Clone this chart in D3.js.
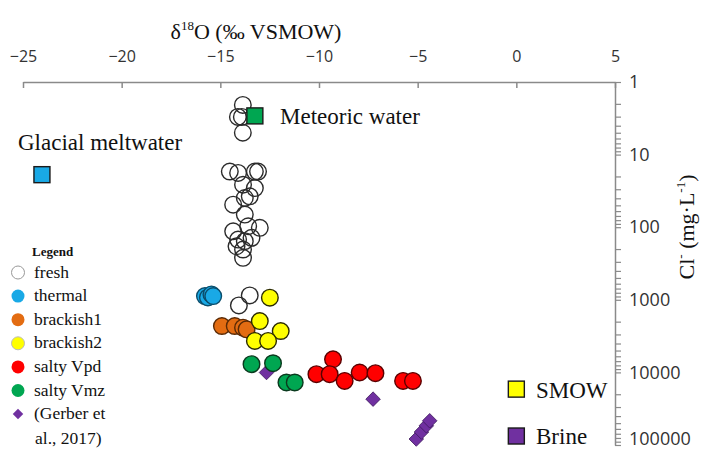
<!DOCTYPE html>
<html>
<head>
<meta charset="utf-8">
<script src="https://cdn.jsdelivr.net/npm/d3@7"></script>
<style>
  body { margin: 0; background: #fff; }
  svg { display: block; }
  .tick text { fill: #333; font-family: "Open Sans", Lato, sans-serif; }
  .serif { fill: #111; }
</style>
</head>
<body>
<svg id="chart" width="704" height="449" viewBox="0 0 704 449"></svg>
<script>
const SERIF = "'Liberation Serif', 'Times New Roman', serif"

// [d18O, Cl mg/L]
const fresh = [
  [-13.86, 2.07], [-14.11, 3.03], [-13.91, 3.03], [-13.86, 5.0],
  [-14.52, 17.1], [-14.10, 17.9], [-13.25, 17.1], [-13.09, 17.1],
  [-13.85, 26], [-13.25, 28.9], [-14.35, 49], [-13.76, 39.6], [-13.51, 37.6],
  [-13.76, 67], [-14.35, 114], [-13.0, 102], [-13.59, 97], [-14.10, 148],
  [-13.76, 156], [-13.42, 140], [-14.18, 183], [-13.85, 203], [-13.85, 264],
  [-13.51, 870], [-14.06, 1194]
]
const thermal = [[-15.78, 889], [-15.63, 927], [-15.45, 843], [-15.36, 889]]
const brackish1 = [[-14.92, 2297], [-14.27, 2297], [-13.85, 2417], [-13.67, 2551]]
const brackish2 = [[-12.49, 936], [-13.0, 1963], [-11.94, 2692], [-13.25, 3690], [-12.58, 3690]]
const saltyVpd = [
  [-9.29, 6590], [-10.13, 10590], [-9.46, 10590], [-8.70, 13090],
  [-7.94, 10030], [-7.14, 10250], [-5.74, 13090], [-5.24, 13090]
]
const saltyVmz = [[-13.42, 7715], [-12.33, 7476], [-11.65, 13770], [-11.23, 13770]]
const gerber = [
  [-13.59, 2830], [-12.66, 10030], [-7.26, 23350],
  [-5.07, 82700], [-4.81, 66300], [-4.56, 54300], [-4.39, 46400]
]
const endMembers = [
  {name: "Glacial meltwater", d18O: -24.04, cl: 18.9},
  {name: "Meteoric water", d18O: -13.25, cl: 2.93},
  {name: "SMOW", d18O: 0, cl: 17000},
  {name: "Brine", d18O: 0, cl: 75200}
]
const xTicks = [-25, -20, -15, -10, -5, 0, 5]
const yTicks = [1, 10, 100, 1000, 10000, 100000]

const svg = d3.select("#chart")
const x = d3.scaleLinear().domain([-25, 5]).range([23, 615])
const y = d3.scaleLog().domain([1, 100000]).range([82, 445])

// top axis, ticks pointing down into the plot
svg.append("g")
  .attr("transform", `translate(0,${y(1)})`)
  .call(d3.axisTop(x).tickValues(xTicks).tickSizeInner(-6).tickSizeOuter(0).tickPadding(20))
  .call(g => g.select(".domain").attr("stroke", "#8a8a8a").attr("stroke-width", 1.5))
  .call(g => g.selectAll(".tick line").attr("stroke", "#8a8a8a").attr("stroke-width", 1.5))
  .call(g => g.selectAll(".tick text").attr("font-size", 16))

// right log axis with minor ticks
let allY = []
for (let e = 0; e < 5; e++) for (let m = 1; m < 10; m++) allY.push(m * Math.pow(10, e))
allY.push(100000)
svg.append("g")
  .attr("transform", `translate(${x(5)},0)`)
  .call(d3.axisRight(y).tickValues(allY).tickSizeInner(6).tickSizeOuter(0).tickPadding(8)
    .tickFormat(d => yTicks.includes(d) ? d3.format("d")(d) : ""))
  .call(g => g.select(".domain").attr("stroke", "#8a8a8a").attr("stroke-width", 1.5))
  .call(g => g.selectAll(".tick line").attr("stroke", "#8a8a8a").attr("stroke-width", 1.2))
  .call(g => g.selectAll(".tick text").attr("font-size", 18))
  .call(g => g.selectAll(".tick text").filter(d => d === 100000).attr("dy", "-0.05em"))

// titles
const title = svg.append("text").attr("class", "serif").attr("font-family", SERIF)
  .attr("x", 256).attr("y", 39).attr("text-anchor", "middle").attr("font-size", 22)
title.append("tspan").text("δ")
title.append("tspan").attr("font-size", 13).attr("dy", -9).text("18")
title.append("tspan").attr("dy", 9).text("O (‰ VSMOW)")

const ylab = svg.append("text").attr("class", "serif").attr("font-family", SERIF)
  .attr("transform", "translate(694,227) rotate(-90)")
  .attr("text-anchor", "middle").attr("font-size", 22)
ylab.append("tspan").text("Cl")
ylab.append("tspan").attr("font-size", 13).attr("dy", -9).text("-")
ylab.append("tspan").attr("dy", 9).text(" (mg·L")
ylab.append("tspan").attr("font-size", 13).attr("dy", -9).text("-1")
ylab.append("tspan").attr("dy", 9).text(")")

// data
const plot = svg.append("g")
function circles(data, fill, stroke) {
  plot.append("g").selectAll("circle").data(data).join("circle")
    .attr("cx", d => x(d[0])).attr("cy", d => y(d[1])).attr("r", 8.3)
    .attr("fill", fill).attr("stroke", stroke).attr("stroke-width", 1.4)
}
circles(fresh, "none", "#2b2b2b")
plot.append("g").selectAll("path").data(gerber).join("path")
  .attr("d", d3.symbol(d3.symbolDiamond2, 135))
  .attr("transform", d => `translate(${x(d[0])},${y(d[1])})`)
  .attr("fill", "#7030a0").attr("stroke", "#3d1a5c").attr("stroke-width", 0.8)
circles(thermal, "#19a9e6", "#0b4d6b")
circles(brackish1, "#e36c12", "#5a2a05")
circles(brackish2, "#ffff00", "#2b2b00")
circles(saltyVmz, "#00a651", "#0a3a1e")
circles(saltyVpd, "#ff0000", "#5a0000")

// end members
const emFill = {"Glacial meltwater": "#19a9e6", "Meteoric water": "#00a651", "SMOW": "#ffff00", "Brine": "#7030a0"}
plot.append("g").selectAll("rect").data(endMembers).join("rect")
  .attr("x", d => x(d.d18O) - 8).attr("y", d => y(d.cl) - 8)
  .attr("width", 16).attr("height", 16)
  .attr("fill", d => emFill[d.name]).attr("stroke", "#1a1a1a").attr("stroke-width", 1.4)

const lab = [
  {t: "Glacial meltwater", x: 18, y: 150},
  {t: "Meteoric water", x: 280, y: 124},
  {t: "SMOW", x: 536, y: 398},
  {t: "Brine", x: 536, y: 444}
]
svg.selectAll(".emlab").data(lab).join("text").attr("class", "serif emlab")
  .attr("font-family", SERIF)
  .attr("x", d => d.x).attr("y", d => d.y).attr("font-size", 23).text(d => d.t)

// legend
const legendItems = [
  {t: "fresh", fill: "#fff", stroke: "#999", shape: "c"},
  {t: "thermal", fill: "#19a9e6", shape: "c"},
  {t: "brackish1", fill: "#e36c12", shape: "c"},
  {t: "brackish2", fill: "#ffff00", stroke: "#bbb", shape: "c"},
  {t: "salty Vpd", fill: "#ff0000", shape: "c"},
  {t: "salty Vmz", fill: "#00a651", shape: "c"},
  {t: "(Gerber et", fill: "#7030a0", shape: "d"}
]
const leg = svg.append("g").attr("font-family", SERIF)
leg.append("text").attr("class", "serif").attr("x", 32).attr("y", 256)
  .attr("font-size", 13).attr("font-weight", "bold").text("Legend")
const row = leg.selectAll("g").data(legendItems).join("g")
  .attr("transform", (d, i) => `translate(0,${272.5 + i * 23.6})`)
row.filter(d => d.shape === "c").append("circle")
  .attr("cx", 18).attr("r", 6.5).attr("fill", d => d.fill)
  .attr("stroke", d => d.stroke || "none").attr("stroke-width", 1)
row.filter(d => d.shape === "d").append("path")
  .attr("d", d3.symbol(d3.symbolDiamond2, 70))
  .attr("transform", "translate(18,0)").attr("fill", d => d.fill)
row.append("text").attr("class", "serif").attr("x", 34).attr("y", 5)
  .attr("font-size", 17.5).text(d => d.t)
leg.append("text").attr("class", "serif").attr("x", 35).attr("y", 444)
  .attr("font-size", 17.5).text("al., 2017)")
</script>
</body>
</html>
